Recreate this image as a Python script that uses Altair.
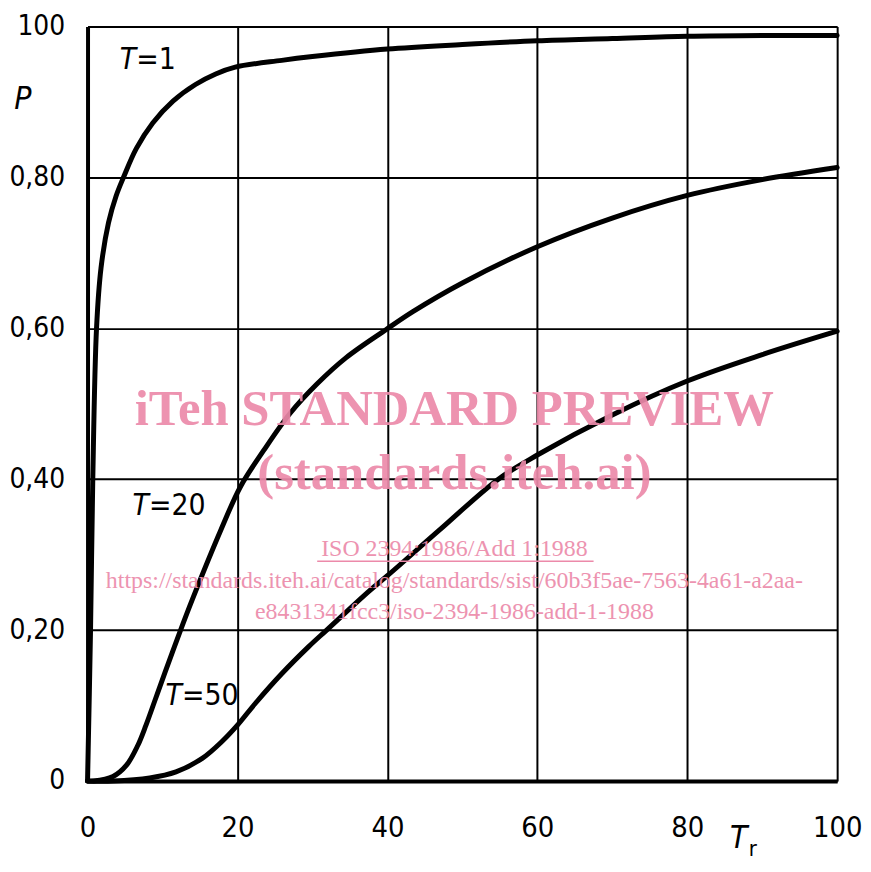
import altair as alt
import pandas as pd

# ---- data ----
x_t1 = [0, 0.4, 0.7, 1.2, 1.8, 2.8, 3.8, 4.8, 6.5, 8.7, 11.4, 14.4, 17.1, 19.7, 25.9, 30, 40, 50, 60, 70, 80, 90, 100]
y_t1 = [0, 0.20, 0.40, 0.60, 0.68, 0.74, 0.775, 0.80, 0.838, 0.872, 0.901, 0.923, 0.937, 0.946, 0.955, 0.96, 0.97, 0.976, 0.981, 0.984, 0.987, 0.988, 0.988]

x_t20 = [0, 0.8, 3.4, 5.2, 6.7, 7.8, 9.0, 10.3, 12.3, 14, 17.8, 20.4, 23.5, 27, 30.6, 34.5, 39.8, 43.4, 50, 60, 70, 80, 90, 100]
y_t20 = [0, 0.0, 0.006, 0.021, 0.047, 0.074, 0.107, 0.143, 0.197, 0.241, 0.333, 0.39, 0.438, 0.487, 0.526, 0.561, 0.598, 0.622, 0.660, 0.708, 0.746, 0.776, 0.797, 0.813]

x_t50 = [0, 3.4, 8.3, 11.8, 15.3, 18, 20, 22.4, 25.9, 29.5, 31.9, 37.6, 40, 47, 54.8, 60, 70, 80, 90, 100]
y_t50 = [0, 0.0, 0.004, 0.012, 0.03, 0.053, 0.074, 0.103, 0.142, 0.178, 0.20, 0.252, 0.272, 0.333, 0.40, 0.432, 0.485, 0.53, 0.565, 0.596]

x_ticks = [0, 20, 40, 60, 80, 100]
y_ticks = [0, 0.2, 0.4, 0.6, 0.8, 1.0]
y_tick_labels = ["0", "0,20", "0,40", "0,60", "0,80", "100"]

curve_names = ["T=1", "T=20", "T=50"]
label_x = [6.5, 8.2, 12.6]
label_y = [0.955, 0.365, 0.112]
label_suffix = ["=1", "=20", "=50"]

watermark_lines = [
    "iTeh STANDARD PREVIEW",
    "(standards.iteh.ai)",
    "ISO 2394:1986/Add 1:1988",
    "https://standards.iteh.ai/catalog/standards/sist/60b3f5ae-7563-4a61-a2aa-",
    "e8431341fcc3/iso-2394-1986-add-1-1988",
]

FONT = "DejaVu Sans Condensed, DejaVu Sans"
SERIF = "Liberation Serif, DejaVu Serif"
PINK = "#EC8AAA"

W, H = 754, 759

rows = []
for name, xs_, ys_ in [("T=1", x_t1, y_t1), ("T=20", x_t20, y_t20), ("T=50", x_t50, y_t50)]:
    for i, (a, b) in enumerate(zip(xs_, ys_)):
        rows.append({"curve": name, "x": a, "y": b, "order": i})
df = pd.DataFrame(rows)

lab = pd.DataFrame({"curve": curve_names, "x": label_x, "y": label_y, "suffix": label_suffix})

# y tick label lookup built from the lists above
label_expr = " : ".join(
    f"abs(datum.value - {v}) < 0.001 ? '{t}'" for v, t in zip(y_ticks, y_tick_labels)
) + " : datum.label"

xs = alt.Scale(domain=[0, 100], nice=False, zero=False)
ys = alt.Scale(domain=[0, 1], nice=False, zero=False)

base = alt.Chart(df)

lines = base.mark_line(color="black", strokeWidth=5, interpolate="catmull-rom", strokeCap="round").encode(
    x=alt.X("x:Q", scale=xs,
            axis=alt.Axis(values=x_ticks, title=None, grid=True, gridColor="black", gridWidth=2, gridOpacity=1,
                          domain=True, domainColor="black", domainWidth=4, ticks=False,
                          labelFont=FONT, labelFontSize=29, labelColor="black", labelPadding=33,
                          labelFlush=False)),
    y=alt.Y("y:Q", scale=ys,
            axis=alt.Axis(values=y_ticks, title=None, grid=True, gridColor="black", gridWidth=2, gridOpacity=1,
                          domain=True, domainColor="black", domainWidth=4, ticks=False,
                          labelFont=FONT, labelFontSize=28, labelColor="black", labelPadding=23,
                          labelExpr=label_expr,
                          labelFlush=False)),
    detail="curve:N",
    order="order:Q",
)

lab_base = alt.Chart(lab)
lab_T = lab_base.mark_text(font=FONT, fontSize=30, fontStyle="italic", align="right", baseline="middle",
                           color="black").encode(
    x=alt.X("x:Q", scale=xs), y=alt.Y("y:Q", scale=ys), text=alt.value("T"))
lab_rest = lab_base.mark_text(font=FONT, fontSize=30, align="left", baseline="middle", dx=0,
                              color="black").encode(
    x=alt.X("x:Q", scale=xs), y=alt.Y("y:Q", scale=ys), text="suffix:N")

# axis titles
p_title = alt.Chart(pd.DataFrame({"t": ["P"]})).mark_text(
    font=FONT, fontSize=32, fontStyle="italic", align="center", baseline="middle", color="black"
).encode(x=alt.value(-65), y=alt.value(73), text="t:N")
tr_T = alt.Chart(pd.DataFrame({"t": ["T"]})).mark_text(
    font=FONT, fontSize=32, fontStyle="italic", align="center", baseline="middle", color="black"
).encode(x=alt.value(655), y=alt.value(816), text="t:N")
tr_r = alt.Chart(pd.DataFrame({"t": ["r"]})).mark_text(
    font=FONT, fontSize=22, align="left", baseline="middle", color="black"
).encode(x=alt.value(665), y=alt.value(827), text="t:N")

# watermark
wm_rows = [
    {"t": watermark_lines[0], "y": 386, "size": 51, "weight": "bold"},
    {"t": watermark_lines[1], "y": 450, "size": 51, "weight": "bold"},
    {"t": watermark_lines[2], "y": 526, "size": 24, "weight": "normal"},
    {"t": watermark_lines[3], "y": 558, "size": 24, "weight": "normal"},
    {"t": watermark_lines[4], "y": 589, "size": 24, "weight": "normal"},
]
wm_layers = []
for r in wm_rows:
    wm_layers.append(
        alt.Chart(pd.DataFrame({"t": [r["t"]]})).mark_text(
            font=SERIF, fontSize=r["size"], fontWeight=r["weight"], align="center", baseline="middle",
            color=PINK, opacity=0.92
        ).encode(x=alt.value(369), y=alt.value(r["y"]), text="t:N")
    )
underline = alt.Chart(pd.DataFrame({"a": [0]})).mark_rule(color=PINK, strokeWidth=1.5).encode(
    x=alt.value(231), x2=alt.value(509), y=alt.value(538))

chart = alt.layer(lines, lab_T, lab_rest, p_title, tr_T, tr_r, *wm_layers, underline).properties(
    width=W, height=H,
    padding={"left": 80, "top": 16, "right": 26, "bottom": 80},
    autosize=alt.AutoSizeParams(type="none"),
).configure_view(stroke="black", strokeWidth=4).configure(background="white")

chart.save("out.html", embed_options={"renderer": "svg", "actions": False})
